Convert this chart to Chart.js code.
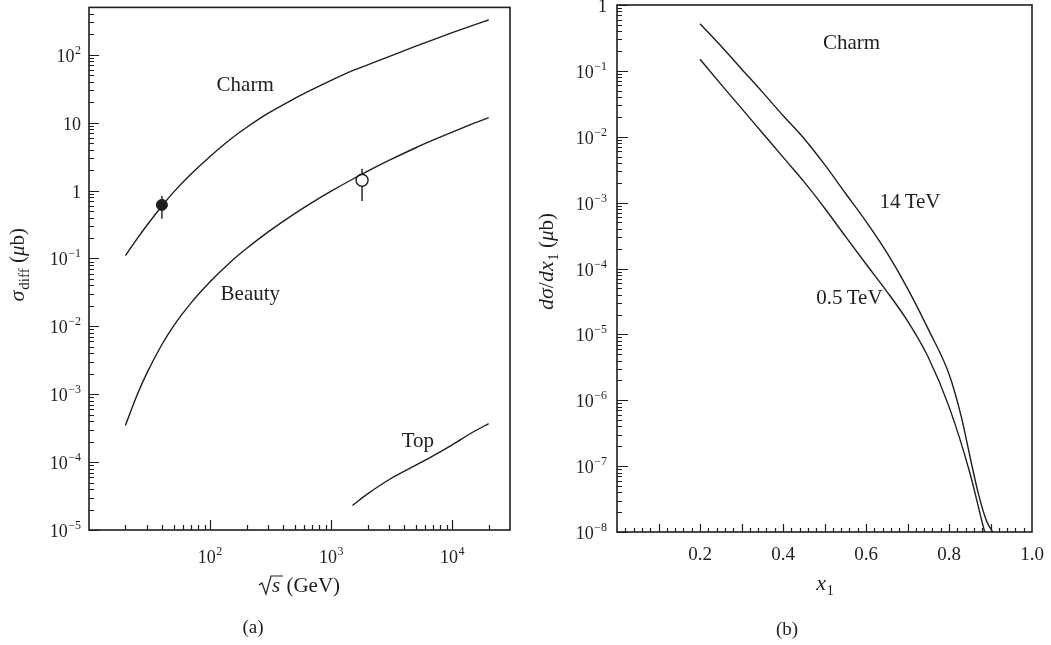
<!DOCTYPE html>
<html><head><meta charset="utf-8">
<script src="https://cdn.jsdelivr.net/npm/chart.js@4.4.1/dist/chart.umd.min.js"></script>
<style>
html,body{margin:0;padding:0;background:#fff;}
#wrap{position:relative;width:1051px;height:645px;overflow:hidden;}
#cA{position:absolute;left:0;top:0;}
#cB{position:absolute;left:525px;top:0;}
</style></head><body>
<div id="wrap">
<canvas id="cA" width="525" height="645"></canvas>
<canvas id="cB" width="526" height="645"></canvas>
</div>
<script>
// ---------- Panel (a): cross sections vs sqrt(s) ----------
const energyGeV   = [20, 25, 30, 40, 50, 70, 100, 150, 200, 300, 500, 700, 1000, 1500, 2000, 3000, 5000, 7000, 10000, 15000, 20000];
const charmSigma  = [0.11, 0.196, 0.306, 0.594, 0.95, 1.77, 3.19, 5.86, 8.5, 13.7, 22.8, 31, 42.2, 58.6, 71, 94, 134, 168, 212, 274, 326];
const beautySigma = [3.47e-4, 9.8e-4, 2.03e-3, 5.4e-3, 0.0102, 0.0224, 0.0454, 0.0912, 0.14, 0.244, 0.458, 0.671, 0.98, 1.47, 1.93, 2.78, 4.28, 5.57, 7.28, 9.75, 11.9];
const topEnergyGeV = [1500, 2000, 3000, 5000, 7000, 10000, 15000, 20000];
const topSigma     = [2.3e-5, 3.4e-5, 5.5e-5, 9.0e-5, 1.25e-4, 1.8e-4, 2.8e-4, 3.7e-4];
const pointEnergyGeV = [40, 1800];
const pointSigma     = [0.615, 1.42];
const pointErrLow    = [0.385, 0.70];
const pointErrHigh   = [0.83, 2.1];
const leftYTickExp = [-5, -4, -3, -2, -1, 0, 1, 2];
const leftXTickExp = [2, 3, 4];

// ---------- Panel (b): d sigma / d x1 for charm ----------
const x1Values = [0.20, 0.25, 0.30, 0.35, 0.40, 0.45, 0.50, 0.55, 0.60, 0.65, 0.70, 0.75, 0.80, 0.83, 0.85, 0.87, 0.89, 0.91];
const dsig14TeV = [0.52, 0.24, 0.107, 0.048, 0.021, 9.5e-3, 3.8e-3, 1.4e-3, 5.2e-4, 1.75e-4, 5.0e-5, 1.2e-5, 2.5e-6, 5.5e-7, 1.45e-7, 4e-8, 1.5e-8, 9e-9];
const x1Values05 = [0.20, 0.25, 0.30, 0.35, 0.40, 0.45, 0.50, 0.55, 0.60, 0.65, 0.70, 0.75, 0.80, 0.85, 0.88, 0.89];
const dsig05TeV = [0.15, 0.063, 0.027, 0.0115, 4.9e-3, 2.1e-3, 8.3e-4, 3.1e-4, 1.17e-4, 4.5e-5, 1.6e-5, 4.5e-6, 8e-7, 8e-8, 1.4e-8, 8e-9];
const rightYTickExp = [0, -1, -2, -3, -4, -5, -6, -7, -8];
const rightXTicks = [0.2, 0.4, 0.6, 0.8, 1.0];

// ---------- helpers ----------
const INK = '#1e1e1e';
const SERIF = '"Liberation Serif","DejaVu Serif",serif';
const f = (px, st) => (st ? st + ' ' : '') + px + 'px ' + SERIF;
const SUPMINUS = '\u2212';

function drawRuns(ctx, runs, x, y, align) {
  let w = 0;
  runs.forEach(r => { ctx.font = r.f; r.w = ctx.measureText(r.t).width; w += r.w + (r.dx || 0); });
  let cx = align === 'right' ? x - w : align === 'center' ? x - w / 2 : x;
  runs.forEach(r => { ctx.font = r.f; cx += (r.dx || 0); ctx.fillText(r.t, cx, y + (r.dy || 0)); cx += r.w; });
  return w;
}
function powRuns(e) {
  if (e === 0) return [{t: '1', f: f(18)}];
  if (e === 1) return [{t: '10', f: f(18)}];
  const ex = e < 0 ? SUPMINUS + (-e) : String(e);
  return [{t: '10', f: f(18)}, {t: ex, f: f(12), dy: -8, dx: 0.5}];
}
function logMinors(lo, hi) {
  const out = [];
  for (let e = Math.floor(Math.log10(lo)); e <= Math.ceil(Math.log10(hi)); e++) {
    for (let m = 2; m <= 9; m++) { const v = m * Math.pow(10, e); if (v > lo && v < hi) out.push(v); }
  }
  return out;
}
function drawTicksFrame(chart, s) {
  const ctx = chart.ctx, ca = chart.chartArea, xs = chart.scales.x, ys = chart.scales.y;
  ctx.save();
  ctx.strokeStyle = INK; ctx.lineWidth = 1.2;
  ctx.beginPath();
  const vx = (v, len) => { const p = Math.round(xs.getPixelForValue(v)) + 0.5; ctx.moveTo(p, ca.bottom); ctx.lineTo(p, ca.bottom - len); };
  const vy = (v, len) => { const p = Math.round(ys.getPixelForValue(v)) + 0.5; ctx.moveTo(ca.left, p); ctx.lineTo(ca.left + len, p); };
  s.xMajor.forEach(v => vx(v, s.xMajLen));
  s.xMinor.forEach(v => vx(v, s.xMinLen));
  s.yMajor.forEach(v => vy(v, s.yMajLen));
  s.yMinor.forEach(v => vy(v, s.yMinLen));
  ctx.stroke();
  ctx.lineWidth = 1.6;
  ctx.strokeRect(ca.left, ca.top, ca.right - ca.left, ca.bottom - ca.top);
  ctx.restore();
}
function rotatedTitle(ctx, runs, baseX, topY) {
  let w = 0; runs.forEach(r => { ctx.font = r.f; w += ctx.measureText(r.t).width + (r.dx || 0); });
  ctx.save();
  ctx.translate(baseX, topY + w); ctx.rotate(-Math.PI / 2);
  drawRuns(ctx, runs, 0, 0, 'left');
  ctx.restore();
}

// ---------- Chart (a) ----------
const ptsA = (xs, ys) => xs.map((x, i) => ({x, y: ys[i]}));
const lineStyle = {borderColor: INK, borderWidth: 1.4, pointRadius: 0, fill: false, cubicInterpolationMode: 'monotone'};

const plugA = {
  id: 'decoA',
  beforeDatasetsDraw(chart) {
    const ctx = chart.ctx, xs = chart.scales.x, ys = chart.scales.y;
    ctx.save(); ctx.strokeStyle = INK; ctx.lineWidth = 1.4; ctx.beginPath();
    pointEnergyGeV.forEach((e, i) => {
      const px = xs.getPixelForValue(e);
      ctx.moveTo(px, ys.getPixelForValue(pointErrLow[i]));
      ctx.lineTo(px, ys.getPixelForValue(pointErrHigh[i]));
    });
    ctx.stroke(); ctx.restore();
  },
  afterDraw(chart) {
    const ctx = chart.ctx, ca = chart.chartArea, xs = chart.scales.x, ys = chart.scales.y;
    drawTicksFrame(chart, {
      xMajor: leftXTickExp.map(e => Math.pow(10, e)), xMinor: logMinors(10, 30000), xMajLen: 10, xMinLen: 5,
      yMajor: leftYTickExp.map(e => Math.pow(10, e)), yMinor: logMinors(1e-5, 500), yMajLen: 10, yMinLen: 5
    });
    ctx.save(); ctx.fillStyle = INK; ctx.textBaseline = 'alphabetic'; ctx.textAlign = 'left';
    leftYTickExp.forEach(e => {
      const py = ys.getPixelForValue(Math.pow(10, e));
      drawRuns(ctx, powRuns(e), ca.left - 8, py + 7, 'right');
    });
    leftXTickExp.forEach(e => {
      const px = xs.getPixelForValue(Math.pow(10, e));
      drawRuns(ctx, powRuns(e), px, ca.bottom + 33, 'center');
    });
    // curve labels
    ctx.font = f(21);
    ctx.textAlign = 'center'; ctx.textBaseline = 'middle';
    ctx.fillText('Charm', xs.getPixelForValue(195), ys.getPixelForValue(35));
    ctx.fillText('Beauty', xs.getPixelForValue(215), ys.getPixelForValue(0.029));
    ctx.fillText('Top', xs.getPixelForValue(5200), ys.getPixelForValue(2.0e-4));
    ctx.textAlign = 'left'; ctx.textBaseline = 'alphabetic';
    // x title: sqrt(s) (GeV)
    const bx = 259, by = 592;
    ctx.strokeStyle = INK; ctx.lineWidth = 1.2; ctx.beginPath();
    ctx.moveTo(bx, by - 7); ctx.lineTo(bx + 3, by - 9); ctx.lineTo(bx + 7, by + 2); ctx.lineTo(bx + 12, by - 16); ctx.lineTo(bx + 24, by - 16);
    ctx.stroke();
    drawRuns(ctx, [{t: 's', f: f(21, 'italic')}, {t: ' (GeV)', f: f(21), dx: 1}], bx + 13, by, 'left');
    drawRuns(ctx, [{t: '(a)', f: f(19)}], 253, 633, 'center');
    // y title rotated
    rotatedTitle(ctx, [{t: '\u03C3', f: f(22, 'italic')}, {t: 'diff', f: f(15), dy: 5, dx: 1}, {t: ' (', f: f(21)}, {t: '\u03BC', f: f(21, 'italic')}, {t: 'b)', f: f(21)}], 24, 228);
    ctx.restore();
  }
};

new Chart(document.getElementById('cA'), {
  type: 'line',
  data: {datasets: [
    Object.assign({data: ptsA(energyGeV, charmSigma)}, lineStyle),
    Object.assign({data: ptsA(energyGeV, beautySigma)}, lineStyle),
    Object.assign({data: ptsA(topEnergyGeV, topSigma)}, lineStyle),
    {data: [{x: pointEnergyGeV[0], y: pointSigma[0]}], showLine: false, pointRadius: 5.5, pointBackgroundColor: INK, pointBorderColor: INK, pointBorderWidth: 1},
    {data: [{x: pointEnergyGeV[1], y: pointSigma[1]}], showLine: false, pointRadius: 6, pointBackgroundColor: '#fff', pointBorderColor: INK, pointBorderWidth: 1.4}
  ]},
  options: {
    responsive: false, animation: false, events: [],
    plugins: {legend: {display: false}, tooltip: {enabled: false}},
    layout: {padding: {left: 89, right: 15, top: 2, bottom: 115}},
    scales: {
      x: {type: 'logarithmic', min: 10, max: 30000, display: false},
      y: {type: 'logarithmic', min: 1e-5, max: 500, display: false}
    }
  },
  plugins: [plugA]
});

// ---------- Chart (b) ----------
const plugB = {
  id: 'decoB',
  afterDraw(chart) {
    const ctx = chart.ctx, ca = chart.chartArea, xs = chart.scales.x, ys = chart.scales.y;
    const xMaj = [], xMin = [];
    for (let i = 1; i < 50; i++) { const v = i / 50; if (i % 5 === 0) xMaj.push(v); else xMin.push(v); }
    drawTicksFrame(chart, {
      xMajor: xMaj, xMinor: xMin, xMajLen: 8, xMinLen: 4,
      yMajor: rightYTickExp.map(e => Math.pow(10, e)), yMinor: logMinors(1e-8, 1), yMajLen: 11, yMinLen: 5
    });
    ctx.save(); ctx.fillStyle = INK; ctx.textBaseline = 'alphabetic'; ctx.textAlign = 'left';
    rightYTickExp.forEach(e => {
      const py = ys.getPixelForValue(Math.pow(10, e));
      drawRuns(ctx, powRuns(e), ca.left - 10, py + 7, 'right');
    });
    rightXTicks.forEach(v => {
      drawRuns(ctx, [{t: v.toFixed(1), f: f(19)}], xs.getPixelForValue(v), ca.bottom + 28, 'center');
    });
    ctx.font = f(21); ctx.textAlign = 'center'; ctx.textBaseline = 'middle';
    ctx.fillText('Charm', xs.getPixelForValue(0.565), ys.getPixelForValue(0.265));
    ctx.fillText('14\u2009TeV', xs.getPixelForValue(0.706), ys.getPixelForValue(1e-3));
    ctx.fillText('0.5\u2009TeV', xs.getPixelForValue(0.56), ys.getPixelForValue(3.5e-5));
    ctx.textAlign = 'left'; ctx.textBaseline = 'alphabetic';
    drawRuns(ctx, [{t: 'x', f: f(22, 'italic')}, {t: '1', f: f(14), dy: 5, dx: 0.5}], 300, 590, 'center');
    drawRuns(ctx, [{t: '(b)', f: f(19)}], 262, 635, 'center');
    rotatedTitle(ctx, [{t: 'd\u03C3', f: f(22, 'italic')}, {t: '/', f: f(22)}, {t: 'dx', f: f(22, 'italic')}, {t: '1', f: f(15), dy: 5, dx: 0.5}, {t: ' (', f: f(21)}, {t: '\u03BC', f: f(21, 'italic')}, {t: 'b)', f: f(21)}], 28, 213);
    ctx.restore();
  }
};

new Chart(document.getElementById('cB'), {
  type: 'line',
  data: {datasets: [
    Object.assign({data: ptsA(x1Values, dsig14TeV)}, lineStyle),
    Object.assign({data: ptsA(x1Values05, dsig05TeV)}, lineStyle)
  ]},
  options: {
    responsive: false, animation: false, events: [],
    plugins: {legend: {display: false}, tooltip: {enabled: false}},
    layout: {padding: {left: 92, right: 19, top: 5, bottom: 113}},
    scales: {
      x: {type: 'linear', min: 0, max: 1, display: false},
      y: {type: 'logarithmic', min: 1e-8, max: 1, display: false}
    }
  },
  plugins: [plugB]
});
</script>
</body></html>
